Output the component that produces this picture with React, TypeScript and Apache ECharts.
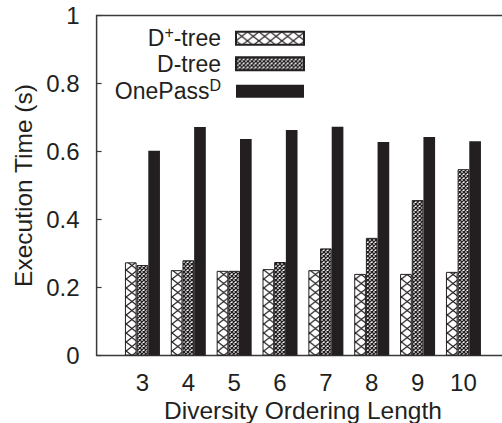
import React, { useEffect, useRef } from "react";
import * as echarts from "echarts";

// Diversity ordering lengths (x positions of the bar groups)
const orderingLengths = [3, 4, 5, 6, 7, 8, 9, 10];

// Execution time in seconds for each method
const dPlusTree = [0.274, 0.251, 0.249, 0.254, 0.251, 0.24, 0.24, 0.246];
const dTree = [0.266, 0.28, 0.249, 0.275, 0.315, 0.346, 0.457, 0.548];
const onePassD = [0.602, 0.672, 0.637, 0.663, 0.673, 0.628, 0.643, 0.63];

const seriesNames = ["D+-tree", "D-tree", "OnePassD"];
const legendLabels: Record<string, string> = {
  "D+-tree": "{b|D}{s|+}{b|-tree}{g| }",
  "D-tree": "{b|D-tree}{g| }",
  OnePassD: "{b|OnePass}{s|D}{g| }",
};

const FONT = "'Liberation Sans', Arial, Helvetica, sans-serif";
const INK = "#231f20";

// Diagonal cross-hatch tile used as a repeating fill
function hatch(w: number, h: number, sw: number, offX: number) {
  const svg =
    `<svg xmlns="http://www.w3.org/2000/svg" width="${w}" height="${h}" viewBox="0 0 ${w} ${h}">` +
    `<rect width="${w}" height="${h}" fill="#fff"/>` +
    `<path d="M${-w} ${-h}L${2 * w} ${2 * h}M${2 * w} ${-h}L${-w} ${2 * h}" stroke="${INK}" stroke-width="${sw}" fill="none"/>` +
    `</svg>`;
  return {
    image: "data:image/svg+xml;charset=utf-8," + encodeURIComponent(svg),
    repeat: "repeat",
    imageWidth: w,
    imageHeight: h,
    x: offX,
    y: 0,
  };
}

export default function App() {
  const ref = useRef<HTMLDivElement>(null);

  useEffect(() => {
    if (!ref.current) return;
    const chart = echarts.init(ref.current, null, { renderer: "svg" });

    const wide = hatch(11.47, 9, 1.2, 10.3);
    const dense = hatch(4, 4, 1.4, 0.5);
    const fills = [wide, dense, INK];
    const values = [dPlusTree, dTree, onePassD];

    chart.setOption({
      animation: false,
      backgroundColor: "#fff",
      grid: {
        left: 96.6,
        top: 15.5,
        right: -7.3,
        bottom: 67.5,
        show: true,
        borderColor: "#3a3a3a",
        borderWidth: 1.5,
        backgroundColor: "transparent",
        outerBoundsMode: "none",
      },
      xAxis: {
        type: "value",
        min: 2,
        max: 11,
        interval: 1,
        name: "Diversity Ordering Length",
        nameLocation: "middle",
        nameGap: 42,
        nameMoveOverlap: false,
        nameTextStyle: { fontFamily: FONT, fontSize: 24.5, color: INK },
        axisLine: { show: false },
        axisTick: { show: false },
        splitLine: { show: false },
        axisLabel: {
          margin: 15,
          fontFamily: FONT,
          fontSize: 24,
          color: INK,
          formatter: (v: number) => (orderingLengths.includes(v) ? String(v) : ""),
        },
      },
      yAxis: {
        type: "value",
        min: 0,
        max: 1,
        interval: 0.2,
        name: "Execution Time (s)",
        nameLocation: "middle",
        nameRotate: 90,
        nameGap: 61,
        nameMoveOverlap: false,
        nameTextStyle: { fontFamily: FONT, fontSize: 24.5, color: INK },
        axisLine: { show: false },
        axisTick: { show: true, inside: true, length: 5, lineStyle: { color: "#3a3a3a", width: 1.2 } },
        splitLine: { show: false },
        axisLabel: { margin: 17, fontFamily: FONT, fontSize: 24, color: INK },
      },
      legend: {
        orient: "vertical",
        align: "right",
        right: 197,
        top: 24.8,
        padding: 0,
        itemGap: 2.5,
        itemWidth: 68,
        itemHeight: 13,
        icon: "rect",
        data: seriesNames,
        formatter: (name: string) => legendLabels[name],
        textStyle: {
          color: INK,
          fontFamily: FONT,
          fontSize: 23,
          rich: {
            b: { fontFamily: FONT, fontSize: 23, color: INK, lineHeight: 27, verticalAlign: "middle" },
            s: { fontFamily: FONT, fontSize: 16, color: INK, lineHeight: 8, verticalAlign: "top" },
            g: { width: 10, lineHeight: 27 },
          },
        },
      },
      series: seriesNames.map((name, i) => ({
        name,
        type: "bar",
        barWidth: 11.67,
        barGap: "0%",
        data: orderingLengths.map((x, j) => [x, values[i][j]]),
        itemStyle: {
          color: fills[i],
          borderColor: INK,
          borderWidth: i < 2 ? 1 : 0,
        },
      })),
    });

    return () => chart.dispose();
  }, []);

  return (
    <div
      ref={ref}
      style={{ position: "fixed", left: 0, top: 0, width: 502, height: 423 }}
    />
  );
}
